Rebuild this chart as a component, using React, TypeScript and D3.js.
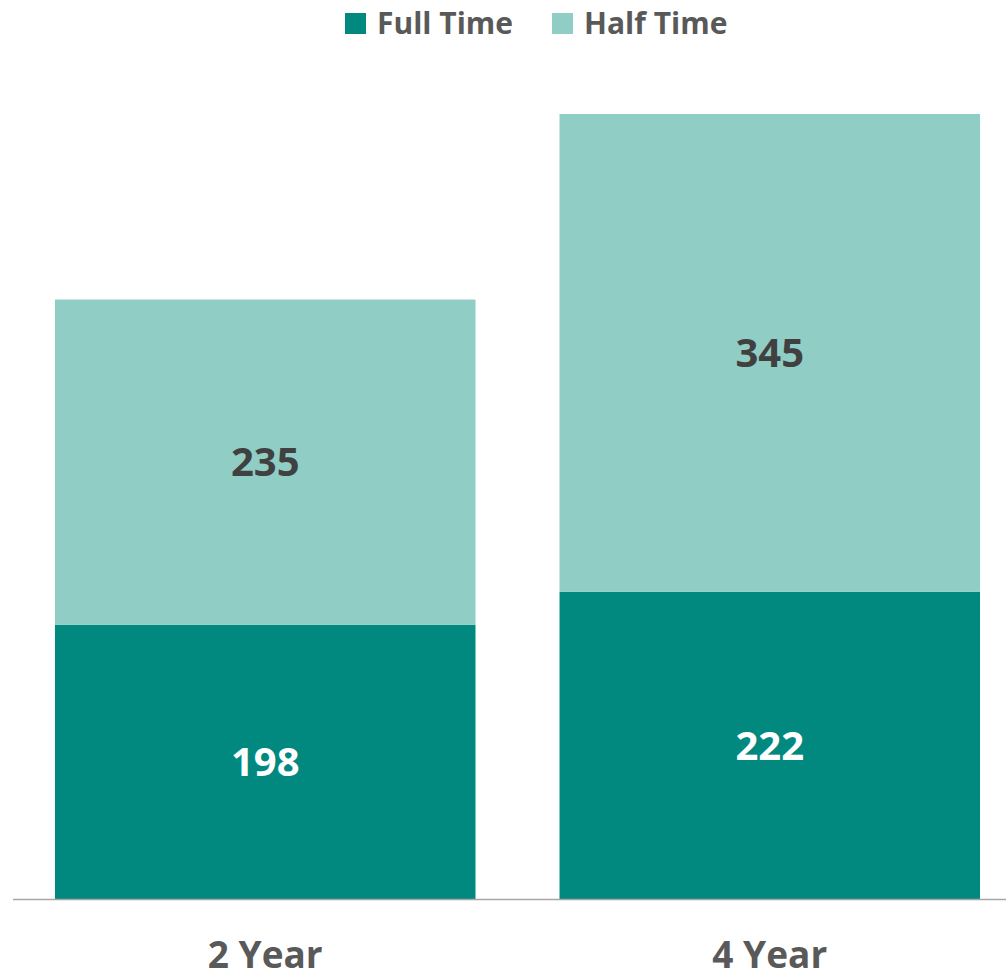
import React from "react";
import * as d3 from "d3";

const categories = ["2 Year", "4 Year"];
const seriesNames = ["Full Time", "Half Time"];
const fullTime = [198, 222];
const halfTime = [235, 345];

const colors = ["#02897F", "#8FCDC5"];
const labelColors = ["#FFFFFF", "#404040"];

const W = 1006;
const H = 971;
const FONT = "'Open Sans', 'DejaVu Sans', sans-serif";

export default function App() {
  const x = d3
    .scaleBand<string>()
    .domain(categories)
    .range([13, 1022])
    .paddingInner(0.1665)
    .paddingOuter(0.0832);
  const y = d3.scaleLinear().domain([0, 600]).range([899, 68.3]);

  const rows = categories.map((c, i) => ({ cat: c, "Full Time": fullTime[i], "Half Time": halfTime[i] }));
  const stacked = d3.stack<any>().keys(seriesNames)(rows);

  const dataFont = 40;
  const capHalf = dataFont * 0.714 / 2;

  return (
    <svg
      width={W}
      height={H}
      style={{ position: "absolute", left: 0, top: 0, background: "#fff" }}
      fontFamily={FONT}
      fontWeight={700}
    >
      {stacked.map((s, si) =>
        s.map((d, i) => {
          const x0 = x(categories[i])!;
          const yTop = y(d[1]);
          const yBot = y(d[0]);
          return (
            <g key={`${si}-${i}`}>
              <rect x={x0} y={yTop} width={x.bandwidth()} height={yBot - yTop} fill={colors[si]} />
              <text
                x={x0 + x.bandwidth() / 2}
                y={(yTop + yBot) / 2 + capHalf}
                textAnchor="middle"
                fontSize={dataFont}
                fill={labelColors[si]}
              >
                {d[1] - d[0]}
              </text>
            </g>
          );
        })
      )}
      <line x1={13} x2={W} y1={899.5} y2={899.5} stroke="#A6A6A6" strokeWidth={1.5} />
      {categories.map((c) => (
        <text
          key={c}
          x={x(c)! + x.bandwidth() / 2}
          y={968}
          textAnchor="middle"
          fontSize={37}
          fill="#595959"
        >
          {c}
        </text>
      ))}
      {seriesNames.map((n, i) => {
        const lx = [345, 552][i];
        return (
          <g key={n}>
            <rect x={lx} y={13} width={21} height={21} fill={colors[i]} />
            <text x={lx + 32} y={34} fontSize={30} fill="#595959">
              {n}
            </text>
          </g>
        );
      })}
    </svg>
  );
}
